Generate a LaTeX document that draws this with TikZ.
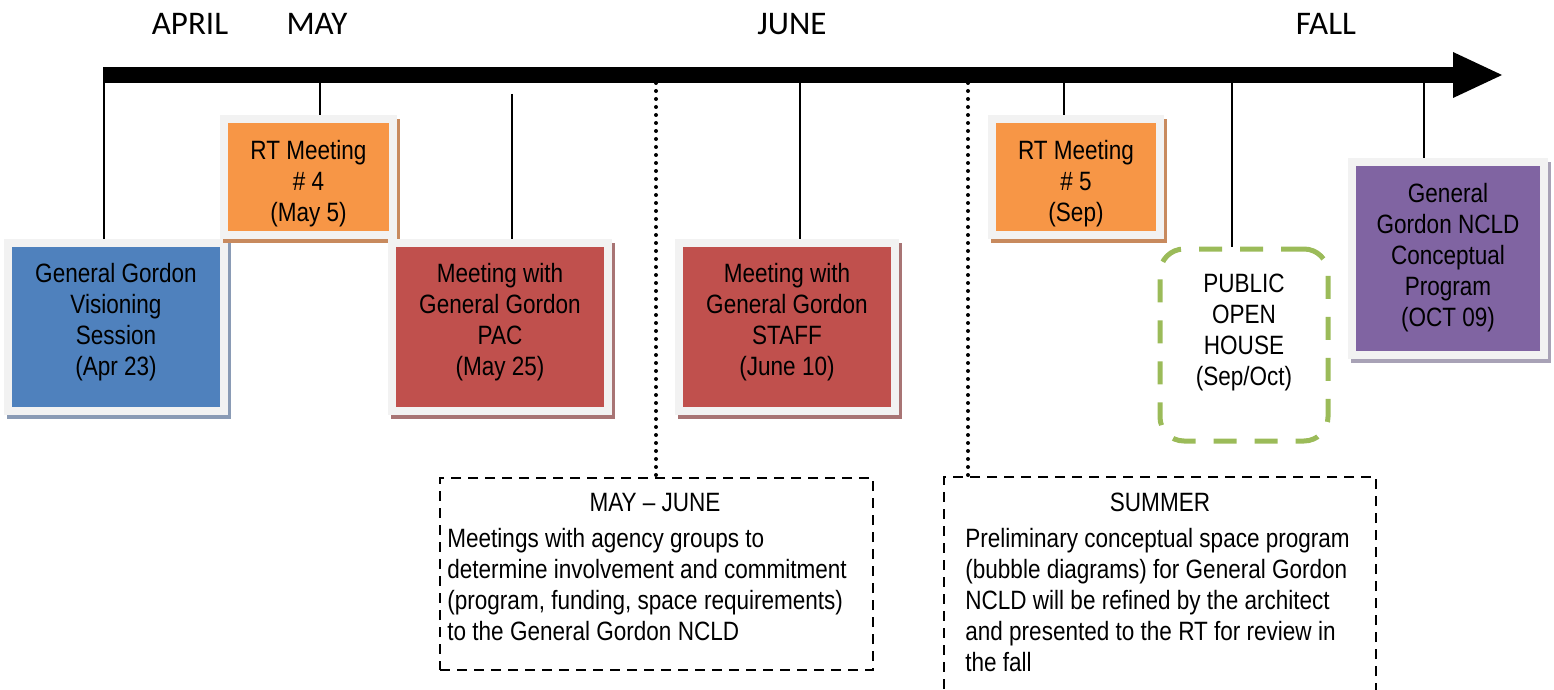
\documentclass[tikz,border=0pt]{standalone}
\usepackage{fontspec}
\setmainfont{Liberation Sans}
\newfontfamily\narrowfnt{Liberation Sans}[FakeStretch=0.85]
\newfontfamily\monthfnt{Carlito}
\newcommand\boxfnt{\narrowfnt\fontsize{13.25pt}{15.5pt}\selectfont}
\newcommand\mfnt{\monthfnt\fontsize{16.5pt}{20pt}\selectfont}
\definecolor{cblue}{HTML}{4F81BD}
\definecolor{corange}{HTML}{F79646}
\definecolor{cred}{HTML}{C0504D}
\definecolor{cpurple}{HTML}{8064A2}
\definecolor{cgreen}{HTML}{9BBB59}
\definecolor{cframe}{HTML}{F2F2F2}
\definecolor{sblue}{HTML}{8A9BB5}
\definecolor{sorange}{HTML}{C88A5E}
\definecolor{sred}{HTML}{A87474}
\definecolor{spurple}{HTML}{A8A2B6}
\begin{document}
\begin{tikzpicture}[x=0.5pt,y=-0.5pt,
  evbox/.style={draw=cframe, line width=4pt, inner sep=0pt, fill=#1},
  shad/.style={preaction={draw=#1, fill=#1, line width=4pt, transform canvas={shift={(1.5pt,-2pt)}}}},
  lbl/.style={anchor=base, align=center, font=\boxfnt, inner sep=0pt},
  month/.style={anchor=base, font=\mfnt, inner sep=0pt},
  tick/.style={line width=1pt},
  dotline/.style={line width=2pt, line cap=round, dash pattern=on 0pt off 4pt},
  periodbox/.style={draw, line width=1.2pt, dash pattern=on 5pt off 3.5pt, inner sep=0pt},
  pubbox/.style={draw=cgreen, line width=2.5pt, rounded corners=12pt, dash pattern=on 11.5pt off 9pt, inner sep=0pt}]
\useasboundingbox (0,0) rectangle (1554,690);

% month labels
\node[month] (mApr) at (190,35) {APRIL};
\node[month] (mMay) at (317,35) {MAY};
\node[month] (mJun) at (792,35) {JUNE};
\node[month] (mFall) at (1326,35) {FALL};

% axis coordinates
\coordinate (ax0) at (103,75);
\coordinate (ax1) at (1456,75);
\coordinate (k1) at (104,75);
\coordinate (k2) at (320,83);
\coordinate (k3) at (512,94);
\coordinate (k4) at (656,83);
\coordinate (k5) at (800,83);
\coordinate (k6) at (968,83);
\coordinate (k7) at (1064,83);
\coordinate (k8) at (1232,83);
\coordinate (k9) at (1424,83);

% boxes
\node[evbox=cblue, shad=sblue, minimum width=108pt, minimum height=84pt] (b1) at (116,327) {};
\node[evbox=corange, shad=sorange, minimum width=84.5pt, minimum height=58pt] (b2) at (308.5,177) {};
\node[evbox=cred, shad=sred, minimum width=108pt, minimum height=84pt] (b3) at (500,327) {};
\node[evbox=cred, shad=sred, minimum width=108pt, minimum height=84pt] (b4) at (787,327) {};
\node[evbox=corange, shad=sorange, minimum width=84pt, minimum height=58pt] (b5) at (1076,177) {};
\node[pubbox, minimum width=84pt, minimum height=96pt] (b6) at (1244,345) {};
\node[evbox=cpurple, shad=spurple, minimum width=96pt, minimum height=96.5pt] (b7) at (1448,258.5) {};

\node[periodbox, minimum width=216.5pt, minimum height=96pt] (p1) at (656.5,574) {};
\node[periodbox, minimum width=216pt, minimum height=130pt] (p2) at (1160,607) {};

% connectors
\draw[tick] (k1) -- (k1 |- b1.north);
\draw[tick] (k2) -- (k2 |- b2.north);
\draw[tick] (k3) -- (k3 |- b3.north);
\draw[dotline] (k4) -- (k4 |- p1.north);
\draw[tick] (k5) -- (k5 |- b4.north);
\draw[dotline] (k6) -- (k6 |- p2.north);
\draw[tick] (k7) -- (k7 |- b5.north);
\draw[tick] (k8) -- (k8 |- b6.north);
\draw[tick] (k9) -- (k9 |- b7.north);

% axis arrow
\draw[line width=8pt] (ax0) -- (ax1);
\fill (1453,52) -- (1502,75) -- (1453,98) -- cycle;

% labels (anchor = baseline of last line)
\node[lbl] (t1) at (116,375) {General Gordon\\Visioning\\Session\\(Apr 23)};
\node[lbl] (t2) at (308.5,221) {RT Meeting\\\# 4\\(May 5)};
\node[lbl] (t3) at (500,375) {Meeting with\\General Gordon\\PAC\\(May 25)};
\node[lbl] (t4) at (787,375) {Meeting with\\General Gordon\\STAFF\\(June 10)};
\node[lbl] (t5) at (1076,221) {RT Meeting\\\# 5\\(Sep)};
\node[lbl] (t6) at (1244,385) {PUBLIC\\OPEN\\HOUSE\\(Sep/Oct)};
\node[lbl] (t7) at (1448,326) {General\\Gordon NCLD\\Conceptual\\Program\\(OCT 09)};

\node[lbl] (h1) at (655,511) {MAY – JUNE};
\node[lbl, anchor=base west, align=left] (d1) at (447,640) {Meetings with agency groups to\\determine involvement and commitment\\(program, funding, space requirements)\\to the General Gordon NCLD};
\node[lbl] (h2) at (1160,511) {SUMMER};
\node[lbl, anchor=base west, align=left] (d2) at (965,671) {Preliminary conceptual space program\\(bubble diagrams) for General Gordon\\NCLD will be refined by the architect\\and presented to the RT for review in\\the fall};
\end{tikzpicture}
\end{document}
